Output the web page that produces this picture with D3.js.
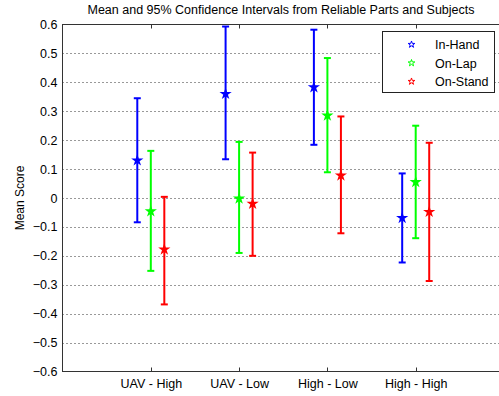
<!DOCTYPE html>
<html>
<head>
<meta charset="utf-8">
<script src="https://cdn.jsdelivr.net/npm/d3@7"></script>
<style>
  body { margin: 0; background: #fff; }
  svg text { font-family: "Liberation Sans", Arial, sans-serif; fill: #000; }
</style>
</head>
<body>
<div class="plot"></div>
<script>
// data
const categories = ['UAV - High', 'UAV - Low', 'High - Low', 'High - High'];
const seriesNames = ['In-Hand', 'On-Lap', 'On-Stand'];
const colors = ['#0000ff', '#00ff00', '#ff0000'];

const inHandMean = [0.13, 0.36, 0.383, -0.069];
const inHandLow = [-0.084, 0.134, 0.184, -0.223];
const inHandHigh = [0.345, 0.593, 0.582, 0.085];

const onLapMean = [-0.046, -0.002, 0.285, 0.055];
const onLapLow = [-0.252, -0.19, 0.089, -0.139];
const onLapHigh = [0.163, 0.194, 0.484, 0.25];

const onStandMean = [-0.178, -0.02, 0.078, -0.048];
const onStandLow = [-0.368, -0.2, -0.122, -0.287];
const onStandHigh = [0.004, 0.157, 0.282, 0.191];

const yTicks = [0.6, 0.5, 0.4, 0.3, 0.2, 0.1, 0, -0.1, -0.2, -0.3, -0.4, -0.5, -0.6];

const series = [
    { mean: inHandMean, lo: inHandLow, hi: inHandHigh },
    { mean: onLapMean, lo: onLapLow, hi: onLapHigh },
    { mean: onStandMean, lo: onStandLow, hi: onStandHigh }
];

const W = 499, H = 396;
const plotLeft = 62.5, plotTop = 24.5, plotRight = 504, plotBottom = 371.5;

const svg = d3.select('.plot')
    .append('svg')
    .attr('width', W)
    .attr('height', H);

const xScale = d3.scaleLinear().domain([0, 5]).range([plotLeft, plotRight]);
const yScale = d3.scaleLinear().domain([-0.6, 0.6]).range([plotBottom, plotTop]);
const offset = 0.153;

// grid lines
svg.append('g')
    .selectAll('line')
    .data(yTicks.filter(t => t > -0.6 && t < 0.6))
    .enter()
    .append('line')
    .attr('x1', plotLeft)
    .attr('x2', plotRight)
    .attr('y1', d => Math.round(yScale(d)) + 0.5)
    .attr('y2', d => Math.round(yScale(d)) + 0.5)
    .attr('stroke', '#333')
    .attr('stroke-width', 1)
    .attr('stroke-dasharray', '1,3');

// axes
const yAxis = d3.axisLeft(yScale)
    .tickValues(yTicks)
    .tickFormat(d => d === 0 ? '0' : d3.format('.1f')(d))
    .tickSize(0)
    .tickPadding(5);

const gy = svg.append('g')
    .attr('transform', `translate(${plotLeft}, 0)`)
    .call(yAxis);
gy.select('.domain').remove();
gy.selectAll('text').attr('font-size', '12.5px');

const xAxis = d3.axisBottom(xScale)
    .tickValues([1, 2, 3, 4])
    .tickFormat((d, i) => categories[i])
    .tickSize(0)
    .tickPadding(8);

const gx = svg.append('g')
    .attr('transform', `translate(0, ${plotBottom})`)
    .call(xAxis);
gx.select('.domain').remove();
gx.selectAll('text').attr('font-size', '12.5px');

// inner tick marks on top and bottom
[1, 2, 3, 4].forEach(c => {
    const x = Math.round(xScale(c)) + 0.5;
    svg.append('line').attr('x1', x).attr('x2', x).attr('y1', plotBottom).attr('y2', plotBottom - 4).attr('stroke', '#333');
    svg.append('line').attr('x1', x).attr('x2', x).attr('y1', plotTop).attr('y2', plotTop + 4).attr('stroke', '#333');
});

// box
svg.append('rect')
    .attr('x', plotLeft)
    .attr('y', plotTop)
    .attr('width', plotRight - plotLeft)
    .attr('height', plotBottom - plotTop)
    .attr('fill', 'none')
    .attr('stroke', '#333')
    .attr('stroke-width', 1);

// star marker
const star = d3.symbol().type(d3.symbolStar);

series.forEach((s, k) => {
    const g = svg.append('g');
    const dx = (k - 1) * offset;
    categories.forEach((c, i) => {
        const x = xScale(i + 1 + dx);
        const y1 = yScale(s.lo[i]), y2 = yScale(s.hi[i]);
        g.append('line').attr('x1', x).attr('x2', x).attr('y1', y1).attr('y2', y2)
            .attr('stroke', colors[k]).attr('stroke-width', 2);
        [y1, y2].forEach(y => {
            g.append('line').attr('x1', x - 3.5).attr('x2', x + 3.5).attr('y1', y).attr('y2', y)
                .attr('stroke', colors[k]).attr('stroke-width', 2);
        });
        g.append('path')
            .attr('d', star.size(18)())
            .attr('transform', `translate(${x}, ${yScale(s.mean[i])})`)
            .attr('fill', colors[k])
            .attr('stroke', colors[k])
            .attr('stroke-width', 1.5);
    });
});

// legend
const lg = svg.append('g');
lg.append('rect')
    .attr('x', 382.5)
    .attr('y', 31.5)
    .attr('width', 112)
    .attr('height', 61)
    .attr('fill', '#fff')
    .attr('stroke', '#222');

seriesNames.forEach((n, k) => {
    const y = 44.5 + k * 18.5;
    lg.append('path')
        .attr('d', star.size(14)())
        .attr('transform', `translate(411.5, ${y})`)
        .attr('fill', 'none')
        .attr('stroke', colors[k])
        .attr('stroke-width', 1);
    lg.append('text')
        .attr('x', 435)
        .attr('y', y + 4.5)
        .attr('font-size', '12.5px')
        .text(n);
});

// title and label
svg.append('text')
    .attr('x', 281)
    .attr('y', 14)
    .attr('text-anchor', 'middle')
    .attr('font-size', '12.5px')
    .text('Mean and 95% Confidence Intervals from Reliable Parts and Subjects');

svg.append('text')
    .attr('transform', `translate(24, ${(plotTop + plotBottom) / 2}) rotate(-90)`)
    .attr('text-anchor', 'middle')
    .attr('font-size', '12px')
    .text('Mean Score');
</script>
</body>
</html>
